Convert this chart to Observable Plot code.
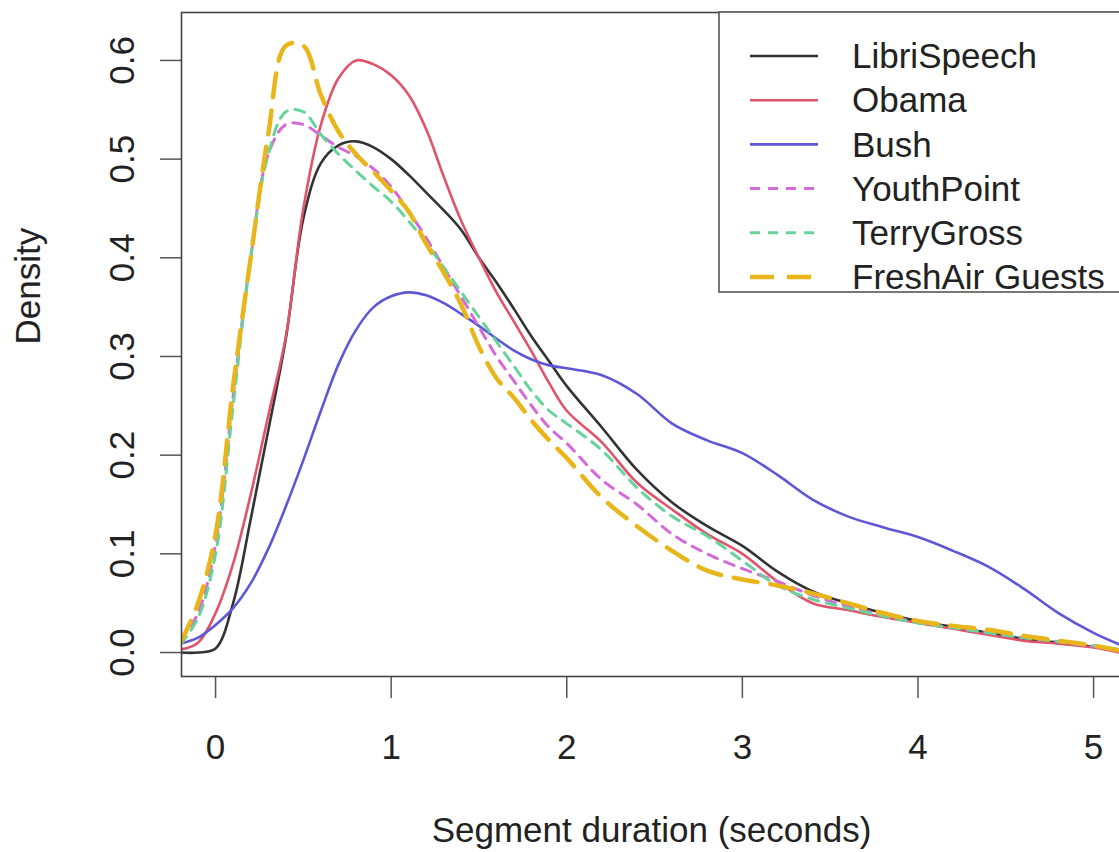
<!DOCTYPE html>
<html><head><meta charset="utf-8">
<script src="https://cdn.jsdelivr.net/npm/d3@7"></script>
<script src="https://cdn.jsdelivr.net/npm/@observablehq/plot@0.6"></script>
<style>body{margin:0;background:#fff}</style>
</head><body><div id="chart"></div>
<script>
const xGrid = [-0.2,-0.1,0,0.1,0.2,0.3,0.4,0.5,0.6,0.7,0.8,0.9,1.0,1.1,1.2,1.3,1.4,1.5,1.6,1.7,1.8,1.9,2.0,2.2,2.4,2.6,2.8,3.0,3.2,3.4,3.6,3.8,4.0,4.2,4.4,4.6,4.8,5.0,5.15];
const seriesNames = ["LibriSpeech","Obama","Bush","YouthPoint","TerryGross","FreshAir Guests"];
const libriSpeech = [0,0,0.004,0.05,0.135,0.225,0.318,0.44,0.496,0.514,0.518,0.512,0.5,0.484,0.466,0.448,0.428,0.40,0.375,0.348,0.32,0.295,0.27,0.228,0.185,0.152,0.128,0.108,0.082,0.062,0.05,0.04,0.032,0.026,0.02,0.014,0.01,0.006,0.002];
const obama = [0.003,0.01,0.04,0.09,0.16,0.24,0.32,0.45,0.535,0.582,0.6,0.596,0.585,0.565,0.53,0.482,0.437,0.40,0.365,0.335,0.305,0.273,0.245,0.213,0.172,0.145,0.12,0.1,0.072,0.05,0.043,0.036,0.03,0.024,0.018,0.012,0.009,0.005,0.0];
const bush = [0.009,0.015,0.028,0.045,0.07,0.105,0.148,0.195,0.245,0.292,0.327,0.35,0.361,0.365,0.362,0.354,0.343,0.331,0.318,0.306,0.297,0.291,0.288,0.281,0.262,0.232,0.215,0.202,0.18,0.155,0.138,0.127,0.117,0.103,0.087,0.065,0.04,0.02,0.008];
const youthPoint = [0.012,0.04,0.11,0.26,0.40,0.505,0.535,0.535,0.524,0.512,0.503,0.49,0.472,0.447,0.42,0.39,0.36,0.33,0.3,0.275,0.25,0.228,0.212,0.175,0.15,0.12,0.1,0.085,0.072,0.058,0.047,0.038,0.031,0.025,0.02,0.015,0.011,0.006,0.002];
const terryGross = [0.008,0.035,0.1,0.25,0.40,0.505,0.548,0.548,0.525,0.505,0.488,0.472,0.457,0.437,0.415,0.39,0.365,0.34,0.315,0.29,0.265,0.245,0.232,0.205,0.167,0.138,0.118,0.093,0.068,0.054,0.045,0.037,0.03,0.025,0.02,0.015,0.011,0.007,0.003];
const freshAir = [0.01,0.05,0.12,0.27,0.40,0.525,0.615,0.615,0.565,0.528,0.505,0.487,0.468,0.447,0.414,0.385,0.352,0.31,0.278,0.258,0.235,0.215,0.197,0.157,0.128,0.103,0.083,0.074,0.068,0.06,0.05,0.04,0.032,0.027,0.023,0.017,0.012,0.007,0.002];
const seriesValues = [libriSpeech, obama, bush, youthPoint, terryGross, freshAir];
const xTicks = [0,1,2,3,4,5];
const yTicks = [0,0.1,0.2,0.3,0.4,0.5,0.6];
const yTickLabels = ["0.0","0.1","0.2","0.3","0.4","0.5","0.6"];

const colors = ["#333333","#df536b","#5d57d6","#d46ad8","#66d39a","#e8b51a"];
const dashes = [null,null,null,"10,8","10,8","24,13"];
const widths = [2.6,2.6,2.6,3,3,4.5];

const rows = seriesNames.flatMap((name,i) => seriesValues[i].map((v,j) => ({series:name, x:xGrid[j], y:v})));

const FONT = "'Liberation Sans', Arial, Helvetica, sans-serif";
const TXT = "#222";
const chart = Plot.plot({
  width: 1119, height: 852,
  marginLeft: 181, marginTop: 12, marginBottom: 176, marginRight: -2,
  x: {domain: [-0.194, 5.159]},
  y: {domain: [-0.0243, 0.6486]},
  style: {fontFamily: FONT, background: "#fff", overflow: "hidden"},
  marks: [
    Plot.axisX({ticks: xTicks, tickSize: 22, tickFormat: () => "", stroke: "#555", strokeWidth: 1.5, label: null}),
    Plot.axisY({ticks: yTicks, tickSize: 21, tickFormat: () => "", stroke: "#555", strokeWidth: 1.5, label: null}),
    Plot.text(xTicks, {x: d => d, frameAnchor: "bottom", dy: 71, fontSize: 35, fill: TXT, lineAnchor: "middle"}),
    Plot.text(yTicks, {y: d => d, text: (d, i) => yTickLabels[i], frameAnchor: "left", dx: -59, rotate: -90, fontSize: 35, fill: TXT, lineAnchor: "middle", textAnchor: "middle"}),
    Plot.text(["Segment duration (seconds)"], {frameAnchor: "bottom", dy: 154, fontSize: 35, fill: TXT, lineAnchor: "middle"}),
    Plot.text(["Density"], {frameAnchor: "left", dx: -153, rotate: -90, fontSize: 35, fill: TXT, lineAnchor: "middle"}),
    ...seriesNames.map((name, i) => Plot.line(rows.filter(r => r.series === name), {
      x: "x", y: "y", stroke: colors[i], strokeWidth: widths[i], strokeDasharray: dashes[i],
      curve: "catmull-rom", clip: true
    })),
    Plot.frame({stroke: "#444", strokeWidth: 1.6})
  ]
});
document.getElementById("chart").appendChild(chart);

// legend box (R-style), drawn into the same SVG
const svg = d3.select(chart);
const lg = svg.append("g");
lg.append("rect").attr("x", 719).attr("y", 12).attr("width", 500).attr("height", 280)
  .attr("fill", "#fff").attr("stroke", "#555").attr("stroke-width", 1.6);
seriesNames.forEach((name, i) => {
  const cy = 56 + i * 44.2;
  lg.append("line").attr("x1", 750).attr("x2", 818).attr("y1", cy).attr("y2", cy)
    .attr("stroke", colors[i]).attr("stroke-width", widths[i])
    .attr("stroke-dasharray", dashes[i]);
  lg.append("text").attr("x", 852).attr("y", cy).attr("dy", "0.35em")
    .attr("text-anchor", "start")
    .attr("font-size", 35).attr("fill", TXT).attr("font-family", FONT).text(name);
});
</script>
</body></html>
